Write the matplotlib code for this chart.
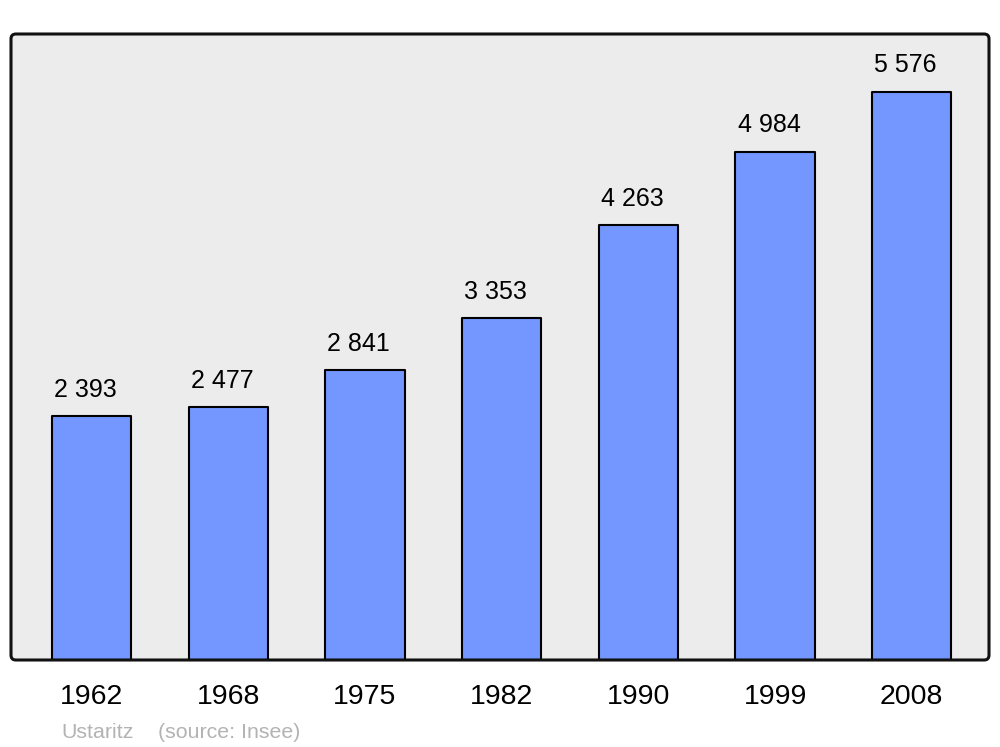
import matplotlib.pyplot as plt
from matplotlib.patches import FancyBboxPatch

plt.rcParams['font.family'] = ['Liberation Sans', 'DejaVu Sans']

YEARS = ["1962", "1968", "1975", "1982", "1990", "1999", "2008"]
POPULATION = [2393, 2477, 2841, 3353, 4263, 4984, 5576]
TOWN = "Ustaritz"
SOURCE = "(source: Insee)"
BAR_W = 0.58

# format numbers with a space as thousands separator
def fmt(v):
    return f"{v:,}".replace(",", " ")

fig = plt.figure(figsize=(10, 7.47), dpi=100)
ax = fig.add_axes([0.011, 1 - 660 / 747, 0.978, 626 / 747])

xs = list(range(len(YEARS)))
ax.bar(xs, POPULATION, width=BAR_W, color="#7497ff", edgecolor="black",
       linewidth=1.5, joinstyle="round", zorder=2)

# labels sit left-aligned just inside the bar's left edge
for x, v in zip(xs, POPULATION):
    ax.annotate(fmt(v), (x - BAR_W / 2, v), xytext=(1.5, 14),
                textcoords="offset points", ha="left", va="baseline",
                fontsize=18)

ax.set_xlim(-0.59, 6.565)
ax.set_ylim(0, 6140)
ax.set_xticks(xs)
ax.set_xticklabels(YEARS, fontsize=20.5)
ax.tick_params(axis="x", length=0, pad=17)
ax.set_yticks([])
for s in ax.spines.values():
    s.set_visible(False)
ax.patch.set_visible(False)

# rounded background and frame
bg = FancyBboxPatch((0, 0), 1, 1, boxstyle="round,pad=0,rounding_size=0.005",
                    mutation_aspect=978 / 626, transform=ax.transAxes,
                    facecolor="#ececec", edgecolor="none", zorder=0, clip_on=False)
ax.add_patch(bg)
frame = FancyBboxPatch((0, 0), 1, 1, boxstyle="round,pad=0,rounding_size=0.005",
                       mutation_aspect=978 / 626, transform=ax.transAxes,
                       facecolor="none", edgecolor="#111111", linewidth=2.2,
                       zorder=5, clip_on=False)
ax.add_patch(frame)

fig.text(61 / 1000, 1 - 738 / 747, TOWN, fontsize=15.4, color="#b3b3b3",
         ha="left", va="baseline")
fig.text(158 / 1000, 1 - 738 / 747, SOURCE, fontsize=15.4, color="#b3b3b3",
         ha="left", va="baseline")

fig.savefig("out.png", dpi=100)
